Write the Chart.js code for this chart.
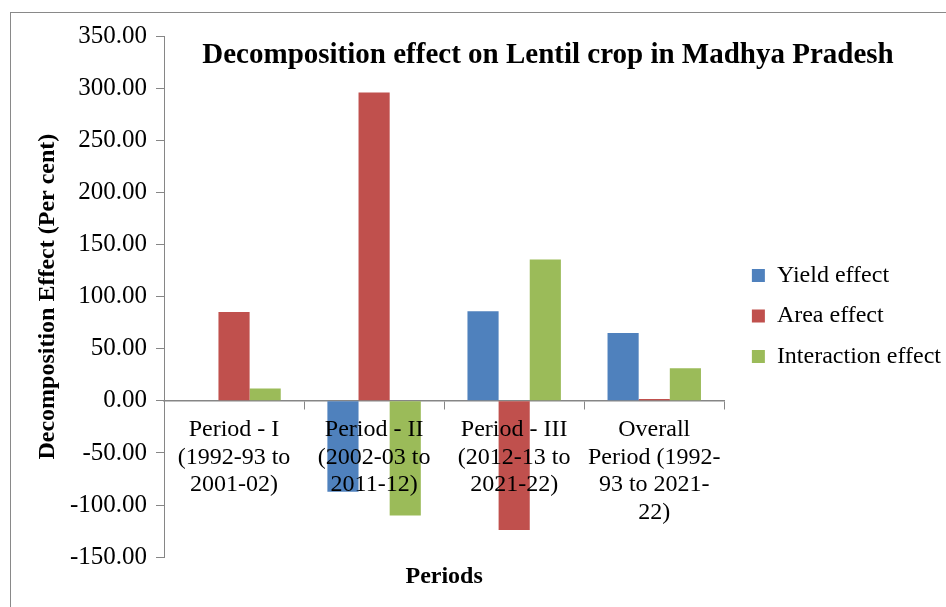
<!DOCTYPE html>
<html>
<head>
<meta charset="utf-8">
<script src="https://cdn.jsdelivr.net/npm/chart.js@4.4.1/dist/chart.umd.min.js"></script>
<style>
  html, body { margin: 0; padding: 0; background: #ffffff; }
  #wrap { position: relative; width: 946px; height: 607px; overflow: hidden; }
  #frame { position: absolute; left: 10px; top: 12px; width: 1000px; height: 700px; border: 1px solid #898989; box-sizing: border-box; }
  #title { position: absolute; left: 0; width: 1096px; top: 36px; line-height: 34px; text-align: center; font-family: "Liberation Serif", "Times New Roman", serif; font-weight: bold; font-size: 29px; color: #000; white-space: nowrap; }
  canvas { position: absolute; left: 0; top: 0; }
</style>
</head>
<body>
<div id="wrap">
  <div id="frame"></div>
  <canvas id="c" width="946" height="607"></canvas>
  <div id="title">Decomposition effect on Lentil crop in Madhya Pradesh</div>
</div>
<script>
const categories = [
  ["Period - I", "(1992-93 to", "2001-02)"],
  ["Period - II", "(2002-03 to", "2011-12)"],
  ["Period - III", "(2012-13 to", "2021-22)"],
  ["Overall", "Period (1992-", "93 to 2021-", "22)"]
];
const seriesNames = ["Yield effect", "Area effect", "Interaction effect"];
const yieldEffect = [0.00, -87.20, 85.90, 65.10];
const areaEffect = [85.20, 295.70, -123.90, 1.80];
const interactionEffect = [11.90, -110.00, 135.70, 31.30];
const yTickMin = -150;
const yTickMax = 350;
const yTickStep = 50;

const colors = ["#4F81BD", "#C0504D", "#9BBB59"];
const axisColor = "#868686";
const serif = '"Liberation Serif", "Times New Roman", serif';

const legendShift = {
  id: 'legendShift',
  afterLayout(chart) {
    const l = chart.legend;
    if (!l) return;
    const dx = 11, dy = -5.5;
    l.left += dx; l.right += dx;
    l.top += dy; l.bottom += dy;
  }
};

new Chart(document.getElementById('c'), {
  type: 'bar',
  data: {
    labels: categories,
    datasets: [
      { label: seriesNames[0], data: yieldEffect, backgroundColor: colors[0], xAxisID: 'x', yAxisID: 'y' },
      { label: seriesNames[1], data: areaEffect, backgroundColor: colors[1], xAxisID: 'x', yAxisID: 'y' },
      { label: seriesNames[2], data: interactionEffect, backgroundColor: colors[2], xAxisID: 'x', yAxisID: 'y' }
    ]
  },
  options: {
    responsive: false,
    animation: false,
    devicePixelRatio: 1,
    layout: { padding: { left: 0, right: 6, top: 36, bottom: 0 } },
    datasets: { bar: { categoryPercentage: 0.667, barPercentage: 1.0 } },
    scales: {
      x: {
        type: 'category',
        position: { y: 0 },
        grid: { display: true, drawOnChartArea: false, drawTicks: true, tickLength: 8, offset: true, color: axisColor, lineWidth: 1, z: -1 },
        border: { display: true, color: axisColor, width: 1.5, z: 0 },
        ticks: { z: 1, color: '#000', font: { family: serif, size: 24, lineHeight: 1.15 }, padding: 7, maxRotation: 0, autoSkip: false }
      },
      x2: {
        type: 'category',
        position: 'bottom',
        labels: categories,
        grid: { display: false, drawTicks: false },
        border: { display: false },
        ticks: { display: false },
        title: { display: true, text: 'Periods', color: '#000', font: { family: serif, size: 24, weight: 'bold', lineHeight: 1.2 }, padding: { top: 5, bottom: 16 } }
      },
      y: {
        min: yTickMin,
        max: yTickMax,
        afterFit(scale) { scale.width = 164; },
        grid: { display: true, drawOnChartArea: false, drawTicks: true, tickLength: 8, color: axisColor },
        border: { display: true, color: axisColor, width: 1 },
        ticks: { stepSize: yTickStep, color: '#000', font: { family: serif, size: 25 }, padding: 9, callback: (v) => Number(v).toFixed(2) },
        title: { display: true, text: 'Decomposition Effect (Per cent)', color: '#000', font: { family: serif, size: 24, weight: 'bold', lineHeight: 1.2 }, padding: { top: 33, bottom: 4 } }
      }
    },
    plugins: {
      title: { display: false },
      tooltip: { enabled: false },
      legend: {
        position: 'right',
        align: 'center',
        labels: { boxWidth: 13, boxHeight: 13, padding: 16.6, color: '#000', font: { family: serif, size: 24 } }
      }
    }
  },
  plugins: [legendShift]
});
</script>
</body>
</html>
